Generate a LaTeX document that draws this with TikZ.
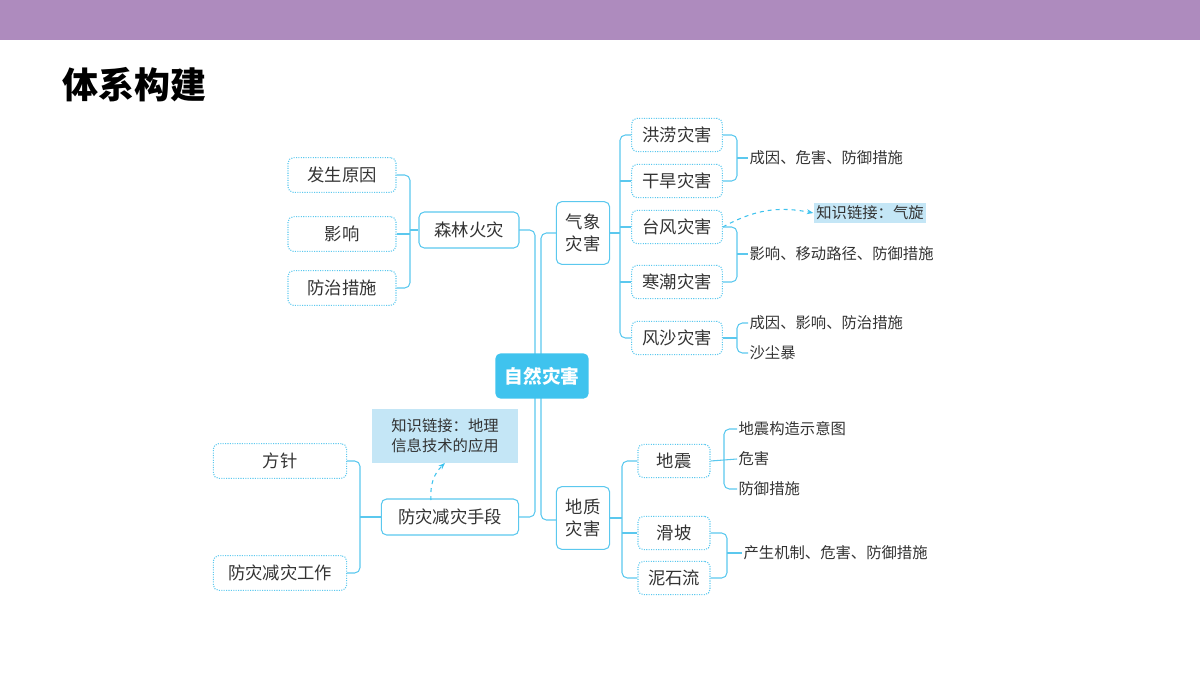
\documentclass[tikz,border=0pt]{standalone}
\usepackage{fontspec}
\setmainfont{Noto Sans CJK SC}
\usetikzlibrary{positioning,arrows.meta}
\definecolor{barpurple}{HTML}{AE8BBE}
\definecolor{lineblue}{HTML}{5BC8EE}
\definecolor{corefill}{HTML}{3FC3EE}
\definecolor{linkfill}{HTML}{C4E6F6}
\definecolor{txtgray}{HTML}{333333}
\tikzset{
  dotbox/.style={draw=lineblue, densely dotted, thick, rounded corners=4pt, minimum height=26pt, text=txtgray, font=\fontsize{13}{15}\selectfont},
  solidbox/.style={draw=lineblue, thick, rounded corners=4pt, minimum height=27pt, text=txtgray, font=\fontsize{13}{15}\selectfont},
  linkbox/.style={fill=linkfill, text=txtgray, inner sep=2pt, font=\fontsize{11.5}{15}\selectfont, align=left},
  note/.style={anchor=west, text=txtgray, inner sep=1pt, font=\fontsize{11.5}{14}\selectfont},
  branch/.style={draw=lineblue, thick, rounded corners=4pt},
  linkarrow/.style={draw=corefill, thick, dashed, -{Stealth[length=5pt]}}
}
\begin{document}
\begin{tikzpicture}[x=0.75pt, y=-0.75pt]
    \useasboundingbox (0,0) rectangle (1200,675);
    \fill[barpurple] (0,0) rectangle (1200,40);
    \node[anchor=west, font=\fontsize{27}{30}\selectfont\bfseries] (title) at (58,85) {体系构建};

    % trunk
    \draw[branch] (519,230) -- (535,230) -- (535,517) -- (519,517);
    \draw[branch] (556,233) -- (541,233) -- (541,520) -- (556,520);
    \node[fill=corefill, rounded corners=4pt, text=white, minimum width=70pt, minimum height=34pt, font=\fontsize{14}{16}\selectfont\bfseries] (core) at (542,376) {自然灾害};

    % forest fire
    \node[solidbox, minimum width=75pt] (slhz) at (469,230) {森林火灾};
    \node[dotbox, minimum width=81pt] (fsyy) at (342,175) {发生原因};
    \node[dotbox, minimum width=81pt] (yx) at (342,234) {影响};
    \node[dotbox, minimum width=81pt] (fzcs) at (342,288) {防治措施};
    \draw[branch] (fsyy.east) -| (410,230) |- (fzcs.east);
    \draw[branch] (yx.east) -- (410,234);
    \draw[branch] (410,230) -- (slhz.west);

    % meteorological
    \node[solidbox, align=center, minimum width=40pt, minimum height=47pt, inner sep=2pt, font=\fontsize{13}{17}\selectfont] (qxzh) at (583,233) {气象\\灾害};
    \node[dotbox, minimum width=68pt, minimum height=25pt] (hl) at (677,135) {洪涝灾害};
    \node[dotbox, minimum width=68pt, minimum height=25pt] (gh) at (677,181) {干旱灾害};
    \node[dotbox, minimum width=68pt, minimum height=25pt] (tf) at (677,227) {台风灾害};
    \node[dotbox, minimum width=68pt, minimum height=25pt] (hc) at (677,282) {寒潮灾害};
    \node[dotbox, minimum width=68pt, minimum height=25pt] (fs) at (677,338) {风沙灾害};
    \draw[branch] (hl.west) -| (620,233) |- (fs.west);
    \draw[branch] (qxzh.east) -- (620,233);
    \draw[branch] (gh.west) -- (620,181);
    \draw[branch] (tf.west) -- (620,227);
    \draw[branch] (hc.west) -- (620,282);

    \node[note] (n1) at (748,158) {成因、危害、防御措施};
    \draw[branch] (hl.east) -| (737,158) |- (gh.east);
    \draw[branch] (737,158) -- (n1.west);
    \node[linkbox] (lk1) at (870,213) {知识链接：气旋};
    \draw[linkarrow] (tf.east) to[bend left=20] (lk1.west);
    \node[note] (n2) at (748,254) {影响、移动路径、防御措施};
    \draw[branch] (tf.east) -| (737,254) |- (hc.east);
    \draw[branch] (737,254) -- (n2.west);
    \node[note] (n3) at (748,323) {成因、影响、防治措施};
    \node[note] (n4) at (748,353) {沙尘暴};
    \draw[branch] (n3.west) -| (737,338) |- (n4.west);
    \draw[branch] (fs.east) -- (737,338);

    % geological
    \node[solidbox, align=center, minimum width=40pt, minimum height=47pt, inner sep=2pt, font=\fontsize{13}{17}\selectfont] (dzzh) at (583,518) {地质\\灾害};
    \node[dotbox, minimum width=54pt, minimum height=25pt] (dz) at (674,461) {地震};
    \node[dotbox, minimum width=54pt, minimum height=25pt] (hp) at (674,533) {滑坡};
    \node[dotbox, minimum width=54pt, minimum height=25pt] (nsl) at (674,578) {泥石流};
    \draw[branch] (dz.west) -| (622,518) |- (nsl.west);
    \draw[branch] (dzzh.east) -- (622,518);
    \draw[branch] (hp.west) -- (622,533);
    \node[note] (d1) at (737,429) {地震构造示意图};
    \node[note] (d2) at (737,459) {危害};
    \node[note] (d3) at (737,489) {防御措施};
    \draw[branch] (d1.west) -| (724,461) |- (d3.west);
    \draw[branch] (dz.east) -- (d2.west);
    \node[note] (d4) at (742,553) {产生机制、危害、防御措施};
    \draw[branch] (hp.east) -| (727,553) |- (nsl.east);
    \draw[branch] (727,553) -- (d4.west);

    % prevention
    \node[solidbox, minimum width=103pt] (fzjz) at (450,517) {防灾减灾手段};
    \node[dotbox, minimum width=100pt] (fz) at (280,461) {方针};
    \node[dotbox, minimum width=100pt] (fzgz) at (280,573) {防灾减灾工作};
    \draw[branch] (fz.east) -| (360,517) |- (fzgz.east);
    \draw[branch] (360,517) -- (fzjz.west);
    \node[linkbox, minimum width=110pt, minimum height=40pt] (lk2) at (445,436) {知识链接：地理\\信息技术的应用};
    \draw[linkarrow] (431,500) to[bend left=25] (lk2.south);
\end{tikzpicture}
\end{document}
